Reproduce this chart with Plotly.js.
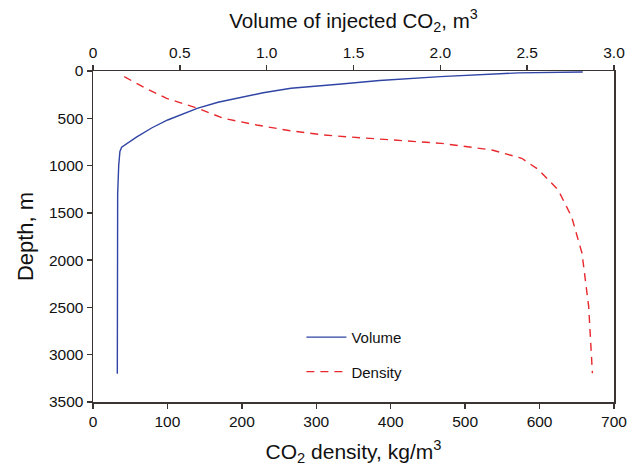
<!DOCTYPE html>
<html>
<head>
<meta charset="utf-8">
<script src="https://cdn.plot.ly/plotly-3.0.1.min.js"></script>
<style>html,body{margin:0;padding:0;background:#fff;}#chart{width:628px;height:467px;}</style>
</head>
<body>
<div id="chart"></div>
<script>
// Volume of injected CO2 (top axis) vs depth
const volumeDepth = [10, 20, 60, 100, 137, 183, 230, 278, 330, 395, 450, 518, 600, 700, 805, 850, 1000, 1300, 3200];
const volumeValues = [2.82, 2.45, 2.0, 1.65, 1.43, 1.14, 0.98, 0.85, 0.72, 0.6, 0.52, 0.43, 0.34, 0.25, 0.165, 0.155, 0.148, 0.142, 0.14];
// CO2 density (bottom axis) vs depth
const densityDepth = [60, 180, 289, 395, 500, 571, 632, 677, 695, 719, 741, 765, 835, 923, 1040, 1258, 1540, 1927, 2491, 3196];
const densityValues = [42, 70, 99, 141, 175, 220, 265, 310, 340, 388, 422, 468, 536, 576, 598, 625, 643, 657, 666, 671];
const densityTicks = [0, 100, 200, 300, 400, 500, 600, 700];
const volumeTicks = [0, 0.5, 1.0, 1.5, 2.0, 2.5, 3.0];
const volumeTickText = ['0', '0.5', '1.0', '1.5', '2.0', '2.5', '3.0'];
const depthTicks = [0, 500, 1000, 1500, 2000, 2500, 3000, 3500];

const axisColor = '#3a3432';
const font = {family: '"Liberation Sans", Arial, sans-serif', size: 15, color: '#111'};

const traces = [
  {x: volumeValues, y: volumeDepth, xaxis: 'x2', yaxis: 'y', mode: 'lines', name: 'Volume',
   legendgroup: 'a', line: {color: '#2f44a4', width: 1.4}},
  {x: densityValues, y: densityDepth, xaxis: 'x', yaxis: 'y', mode: 'lines', name: 'Density',
   legendgroup: 'b', line: {color: '#e8282c', width: 1.4, dash: '8px,6px'}}
];

const layout = {
  width: 628, height: 467,
  margin: {l: 93, r: 14, t: 71, b: 65, pad: 0},
  paper_bgcolor: '#fff', plot_bgcolor: '#fff',
  font: font,
  showlegend: true,
  legend: {x: 0.4, y: 0.245, xanchor: 'left', yanchor: 'top', bgcolor: 'rgba(0,0,0,0)',
           tracegroupgap: 12, traceorder: 'grouped', itemwidth: 40, font: {size: 15}},
  xaxis: {range: [0, 700], tickvals: densityTicks, ticks: 'outside', ticklen: 5, tickwidth: 1.5,
          tickcolor: axisColor, showline: true, linecolor: axisColor, linewidth: 1.5,
          showgrid: false, zeroline: false, tickfont: {size: 15.5},
          title: {text: 'CO<sub>2</sub> density, kg/m<sup>3</sup>', font: {size: 21}, standoff: 15}},
  xaxis2: {range: [0, 3], overlaying: 'x', side: 'top', anchor: 'y', tickvals: volumeTicks, ticktext: volumeTickText,
           ticks: 'outside', ticklen: 5, tickwidth: 1.5, tickcolor: axisColor, showline: true,
           linecolor: axisColor, linewidth: 1.5, showgrid: false, zeroline: false, tickfont: {size: 15.5},
           title: {text: 'Volume of injected CO<sub>2</sub>, m<sup>3</sup>', font: {size: 20.5}, standoff: 10}},
  yaxis: {range: [3500, 0], tickvals: depthTicks, ticks: 'outside', ticklen: 5, tickwidth: 1.5,
          tickcolor: axisColor, showline: true, mirror: true, linecolor: axisColor, linewidth: 1.5,
          showgrid: false, zeroline: false, tickfont: {size: 15.5},
          title: {text: 'Depth, m', font: {size: 22}, standoff: 9}}
};

Plotly.newPlot('chart', traces, layout, {staticPlot: true, displayModeBar: false});
</script>
</body>
</html>
